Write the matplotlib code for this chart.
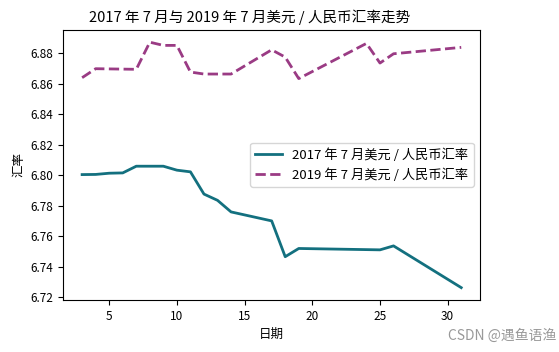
import matplotlib
matplotlib.use('Agg')
import matplotlib.pyplot as plt

plt.rcParams['font.family'] = ['Noto Sans CJK SC', 'DejaVu Sans']
plt.rcParams['axes.unicode_minus'] = False

# 2017年7月 美元/人民币汇率
days_2017 = [3, 4, 5, 6, 7, 9, 10, 11, 12, 13, 14, 17, 18, 19, 25, 26, 31]
rate_2017 = [6.8005, 6.8006, 6.8014, 6.8016, 6.8060, 6.8060, 6.8034, 6.8023,
             6.7877, 6.7836, 6.7760, 6.7701, 6.7466, 6.7520, 6.7511, 6.7537, 6.7263]

# 2019年7月 美元/人民币汇率
days_2019 = [3, 4, 7, 8, 9, 10, 11, 12, 14, 17, 18, 19, 24, 25, 26, 31]
rate_2019 = [6.8641, 6.8700, 6.8696, 6.8874, 6.8853, 6.8853, 6.8678, 6.8665,
             6.8665, 6.8824, 6.8776, 6.8635, 6.8866, 6.8737, 6.8798, 6.8840]

fig = plt.figure(figsize=(5.59, 3.52), dpi=100)
ax = fig.add_axes([0.113, 0.148, 0.746, 0.767])

ax.plot(days_2017, rate_2017, color='#13707f', linewidth=2, label='2017 年 7 月美元 / 人民币汇率')
ax.plot(days_2019, rate_2019, color='#9a3b84', linewidth=2, linestyle='--', label='2019 年 7 月美元 / 人民币汇率')

ax.set_title('2017 年 7 月与 2019 年 7 月美元 / 人民币汇率走势', fontsize=10.5, x=0.446)
ax.set_xlabel('日期', fontsize=9)
ax.set_ylabel('汇率', fontsize=9)
ax.set_yticks([6.72, 6.74, 6.76, 6.78, 6.80, 6.82, 6.84, 6.86, 6.88])
ax.set_yticklabels(['6.72', '6.74', '6.76', '6.78', '6.80', '6.82', '6.84', '6.86', '6.88'])
ax.tick_params(labelsize=8.5)
ax.legend(loc='center right', fontsize=9.5)

fig.text(0.995, 0.025, 'CSDN @遇鱼语渔', ha='right', va='bottom', fontsize=10, color='#999999')

fig.savefig('out.png', dpi=100)
